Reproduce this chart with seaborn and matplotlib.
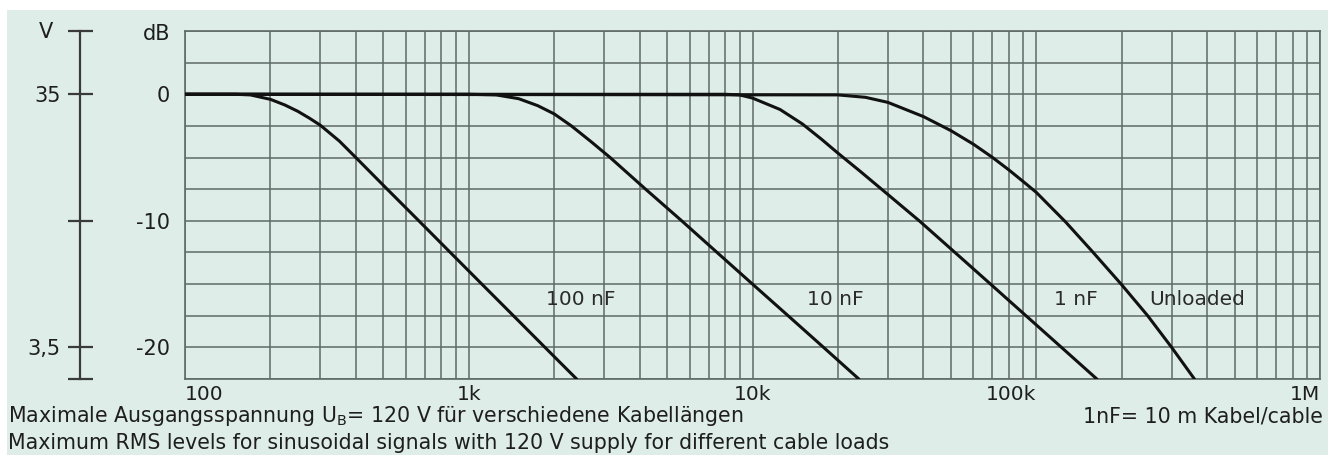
import numpy as np
import pandas as pd
import seaborn as sns
import matplotlib.pyplot as plt
from matplotlib.ticker import LogLocator, MultipleLocator, NullFormatter
from matplotlib.patches import Rectangle

# частоты (Гц) и уровни (дБ)
freq_100nf = [100, 150, 170, 200, 225, 250, 275, 300, 350, 400, 516, 667, 861, 1112, 1437, 1856, 2400]
db_100nf = [0, 0, -0.05, -0.4, -0.85, -1.35, -1.9, -2.45, -3.7, -5.0, -7.5, -10.0, -12.5, -15.0,
            -17.5, -20.0, -22.5]

freq_10nf = [100, 1000, 1250, 1500, 1750, 2000, 2300, 2700, 3150, 4200, 5630, 7500, 10000, 13350,
             17800, 23700]
db_10nf = [0, 0, -0.05, -0.35, -0.9, -1.55, -2.5, -3.75, -5.0, -7.5, -10.0, -12.5, -15.0, -17.5,
           -20.0, -22.5]

freq_1nf = [100, 8000, 9000, 10000, 12500, 15000, 17500, 20000, 24000, 28500, 38700, 51700, 69000,
            92000, 122700, 163500]
db_1nf = [0, 0, -0.05, -0.3, -1.2, -2.35, -3.55, -4.65, -6.1, -7.5, -10.0, -12.5, -15.0, -17.5,
          -20.0, -22.5]

freq_unloaded = [100, 20000, 25000, 30000, 40000, 50000, 60000, 70000, 80000, 90000, 100000, 127000,
                 158000, 200000, 247000, 300000, 361000]
db_unloaded = [0, -0.05, -0.24, -0.64, -1.76, -2.87, -3.94, -4.98, -5.97, -6.9, -7.75, -10.1, -12.45,
               -15.05, -17.5, -20.0, -22.5]

curve_names = ['100 nF', '10 nF', '1 nF', 'Unloaded']

x_ticks = [100, 1e3, 1e4, 1e5, 1e6]
x_tick_labels = ['100', '1k', '10k', '100k', '1M']
db_ticks = [0, -10, -20]
db_tick_labels = ['0', '-10', '-20']
v_ticks = [5, 0, -10, -20, -22.5]
v_tick_labels = ['', '35', '', '3,5', '']

BG = '#deede8'
GRID = '#5f6a66'
INK = '#1e1e1e'

sns.set_theme(style='white')
plt.rcParams['font.family'] = ['DejaVu Sans']

fig = plt.figure(figsize=(13.28, 4.55), dpi=100)
fig.patch.set_facecolor('white')
fig.patches.append(Rectangle((7 / 1328, 0), 1, 1 - 10 / 455, transform=fig.transFigure,
                             facecolor=BG, edgecolor='none', zorder=-10))

ax = fig.add_axes([185 / 1328, 76 / 455, 1135 / 1328, 348 / 455])
ax.set_facecolor(BG)

# сбор кривых в один DataFrame
frames = []
for name, f, d in zip(curve_names,
                      [freq_100nf, freq_10nf, freq_1nf, freq_unloaded],
                      [db_100nf, db_10nf, db_1nf, db_unloaded]):
    frames.append(pd.DataFrame({'freq': f, 'db': d, 'curve': name}))
data = pd.concat(frames, ignore_index=True)

sns.lineplot(data=data, x='freq', y='db', units='curve', estimator=None,
             color='#111111', linewidth=2.2, ax=ax, zorder=5)

ax.set_xscale('log')
ax.set_xlim(100, 1e6)
ax.set_ylim(-22.5, 5)
ax.set_xlabel('')
ax.set_ylabel('')

# сетка
ax.xaxis.set_minor_locator(LogLocator(base=10, subs=np.arange(2, 10)))
ax.xaxis.set_minor_formatter(NullFormatter())
ax.yaxis.set_minor_locator(MultipleLocator(2.5))
ax.grid(which='both', color=GRID, linewidth=1.1)
ax.set_axisbelow(True)
for sp in ax.spines.values():
    sp.set_color(GRID)
    sp.set_linewidth(1.2)

ax.set_xticks(x_ticks, x_tick_labels)
ax.set_yticks(db_ticks, db_tick_labels)
ax.tick_params(which='both', length=0)
ax.tick_params(axis='y', pad=11, labelsize=15, labelcolor=INK)
ax.tick_params(axis='x', pad=4, labelsize=14.5, labelcolor=INK)
aligns = ['left', 'center', 'center', 'right', 'right']
for lab, ha in zip(ax.get_xticklabels(), aligns):
    lab.set_horizontalalignment(ha)

ax.text(-0.0132, 4.77, 'dB', transform=ax.get_yaxis_transform(), ha='right', va='center',
        fontsize=15, color=INK)

# шкала напряжения слева
ax2 = ax.twinx()
ax2.set_ylim(ax.get_ylim())
ax2.grid(False)
for side in ['top', 'right', 'bottom']:
    ax2.spines[side].set_visible(False)
ax2.spines['left'].set_position(('axes', (80 - 185) / 1135))
ax2.spines['left'].set_color('#3a3a3a')
ax2.spines['left'].set_linewidth(1.6)
ax2.yaxis.set_ticks_position('left')
ax2.set_yticks(v_ticks, v_tick_labels)
ax2.tick_params(axis='y', direction='inout', length=18, width=1.6, color='#3a3a3a',
                pad=5, labelsize=15, labelcolor=INK)
ax.text((53 - 185) / 1135, 4.9, 'V', transform=ax.get_yaxis_transform(), ha='right', va='center',
        fontsize=15, color=INK)

# подписи кривых
label_freqs = [1871, 15600, 115500, 250000]
for name, fx in zip(curve_names, label_freqs):
    ax.text(fx, -16.25, name, ha='left', va='center', fontsize=14.5, color='#2a2a2a', zorder=6)

# подписи внизу
fig.text(8 / 1328, (455 - 422) / 455,
         'Maximale Ausgangsspannung U$_\\mathrm{B}$= 120 V für verschiedene Kabellängen',
         ha='left', va='baseline', fontsize=14.8, color=INK)
fig.text(8 / 1328, (455 - 449) / 455,
         'Maximum RMS levels for sinusoidal signals with 120 V supply for different cable loads',
         ha='left', va='baseline', fontsize=14.8, color=INK)
fig.text(1323 / 1328, (455 - 422) / 455, '1nF= 10 m Kabel/cable',
         ha='right', va='baseline', fontsize=14.8, color=INK)

fig.savefig('out.png', dpi=100, facecolor=fig.get_facecolor())
